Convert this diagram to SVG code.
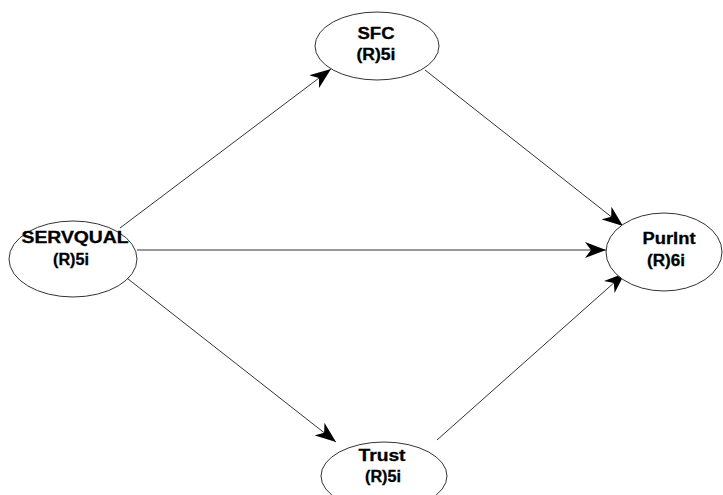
<svg xmlns="http://www.w3.org/2000/svg" width="723" height="495" viewBox="0 0 723 495">
<style>
.node ellipse{fill:#fff;stroke:#333;stroke-width:1}
.node text{font-family:"Liberation Sans",Arial,sans-serif;font-weight:bold;font-size:16px;fill:#000;stroke:#000;stroke-width:0.3;text-anchor:middle}
.edge{stroke:#333;stroke-width:1;fill:none;marker-end:url(#arr)}
</style>
<defs>
<marker id="arr" markerUnits="userSpaceOnUse" markerWidth="22" markerHeight="16" refX="21" refY="8" orient="auto">
<path d="M0,0 L21,8 L0,16 L6,8 z" fill="#000"/>
</marker>
</defs>
<rect width="723" height="495" fill="#fff"/>
<g id="connectors">
<line class="edge" x1="120" y1="228" x2="331" y2="69"/>
<line class="edge" x1="425" y1="70" x2="623" y2="226"/>
<line class="edge" x1="137" y1="250" x2="606" y2="250"/>
<line class="edge" x1="123" y1="275" x2="336" y2="442"/>
<line class="edge" x1="437" y1="440" x2="625" y2="273"/>
</g>
<g id="SFC" class="node">
<ellipse cx="377" cy="46" rx="62" ry="34"/>
<text x="376" y="39" textLength="37" lengthAdjust="spacingAndGlyphs">SFC</text>
<text x="376" y="60" textLength="39" lengthAdjust="spacingAndGlyphs">(R)5i</text>
</g>
<g id="SERVQUAL" class="node">
<ellipse cx="73" cy="259" rx="64" ry="38"/>
<text x="75" y="243" textLength="107" lengthAdjust="spacingAndGlyphs">SERVQUAL</text>
<text x="71" y="265" textLength="36" lengthAdjust="spacingAndGlyphs">(R)5i</text>
</g>
<g id="PurInt" class="node">
<ellipse cx="664" cy="252" rx="58" ry="39"/>
<text x="669" y="244" textLength="53" lengthAdjust="spacingAndGlyphs">PurInt</text>
<text x="666" y="266" textLength="38" lengthAdjust="spacingAndGlyphs">(R)6i</text>
</g>
<g id="Trust" class="node">
<ellipse cx="384" cy="476" rx="63" ry="34"/>
<text x="382" y="461" textLength="47" lengthAdjust="spacingAndGlyphs">Trust</text>
<text x="383" y="482" textLength="36" lengthAdjust="spacingAndGlyphs">(R)5i</text>
</g>
</svg>
